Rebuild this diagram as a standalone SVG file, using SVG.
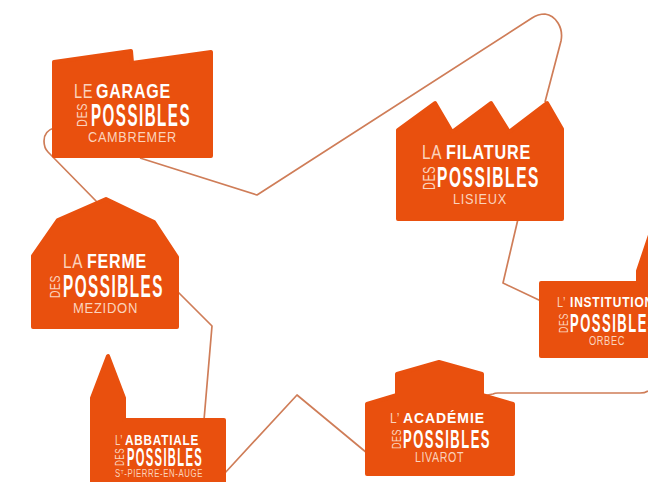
<svg xmlns="http://www.w3.org/2000/svg" width="648" height="482" viewBox="0 0 648 482">
<style>
.b{fill:#e9500e;stroke:#e9500e;stroke-width:4;stroke-linejoin:round}
text{font-family:"Liberation Sans Narrow","Liberation Sans",Arial,sans-serif;fill:#fff}
.t{font-weight:700;letter-spacing:1px}
.l{fill:#fbd3bd;letter-spacing:.8px}
.p{font-weight:700;fill:#fff;letter-spacing:3px}
#connectors path{fill:none;stroke:#cf7d58;stroke-width:1.7;stroke-linejoin:round}
</style>
<rect width="648" height="482" fill="#fff"/>
<g id="connectors">
<path d="M140 158L257 195L532 18Q538 14 545 14Q553 15 558 23Q563 31 561 41L545 102"/>
<path d="M54 128Q44 131 44 141Q44 148 48 152L98 203"/>
<path d="M177 291L212 326L204 420"/>
<path d="M224 474L297 395L367 453"/>
<path d="M482 396L493 394Q495 393 498 393L640 393Q645 393 648 391"/>
<path d="M518 219L503 283L541 301"/>
</g>
<g id="garage">
<path class="b" d="M54 62L131 51L132 63L211 52V156H54Z"/>
<text class="l" x="74" y="98" font-size="21" textLength="19" lengthAdjust="spacingAndGlyphs">LE</text>
<text class="t" x="96" y="98" font-size="21" textLength="75" lengthAdjust="spacingAndGlyphs">GARAGE</text>
<text class="p" x="91" y="126" font-size="31" textLength="100" lengthAdjust="spacingAndGlyphs">POSSIBLES</text>
<text class="l" transform="translate(87 127) rotate(-90)" font-size="15" textLength="24" lengthAdjust="spacingAndGlyphs">DES</text>
<text class="l" x="88" y="142" font-size="14" textLength="89" lengthAdjust="spacingAndGlyphs">CAMBREMER</text>
</g>
<g id="ferme">
<path class="b" d="M106 199L58 220L33 256V327H177V257L154 222Z"/>
<text class="l" x="63" y="268" font-size="20" textLength="20" lengthAdjust="spacingAndGlyphs">LA</text>
<text class="t" x="87" y="268" font-size="20" textLength="60" lengthAdjust="spacingAndGlyphs">FERME</text>
<text class="p" x="63" y="297" font-size="31" textLength="101" lengthAdjust="spacingAndGlyphs">POSSIBLES</text>
<text class="l" transform="translate(60 298) rotate(-90)" font-size="15" textLength="23" lengthAdjust="spacingAndGlyphs">DES</text>
<text class="l" x="73" y="313" font-size="15" textLength="65" lengthAdjust="spacingAndGlyphs">MEZIDON</text>
</g>
<g id="abbatiale">
<path class="b" d="M108 356L92 398V484H224V420H124V398Z"/>
<text class="l" x="115" y="445" font-size="15" textLength="8" lengthAdjust="spacingAndGlyphs">L’</text>
<text class="t" x="125" y="445" font-size="15" textLength="74" lengthAdjust="spacingAndGlyphs">ABBATIALE</text>
<text class="p" x="127" y="466" font-size="25" textLength="76" lengthAdjust="spacingAndGlyphs">POSSIBLES</text>
<text class="l" transform="translate(124 466) rotate(-90)" font-size="12" textLength="18" lengthAdjust="spacingAndGlyphs">DES</text>
<text class="l" x="115" y="477" font-size="10" textLength="88" lengthAdjust="spacingAndGlyphs">S<tspan font-size="6" dy="-3">T</tspan><tspan dy="3">-PIERRE-EN-AUGE</tspan></text>
</g>
<g id="academie">
<path class="b" d="M439 362L397 374V395L367 404V474H513V404L482 395V374Z"/>
<text class="l" x="390" y="423" font-size="15" textLength="10" lengthAdjust="spacingAndGlyphs">L’</text>
<text class="t" x="403" y="423" font-size="15" textLength="82" lengthAdjust="spacingAndGlyphs">ACADÉMIE</text>
<text class="p" x="403" y="448" font-size="26" textLength="88" lengthAdjust="spacingAndGlyphs">POSSIBLES</text>
<text class="l" transform="translate(401 449) rotate(-90)" font-size="13" textLength="20" lengthAdjust="spacingAndGlyphs">DES</text>
<text class="l" x="415" y="462" font-size="14" textLength="49" lengthAdjust="spacingAndGlyphs">LIVAROT</text>
</g>
<g id="filature">
<path class="b" d="M398 130L435 103L452 132L491 103L509 132L547 103L562 129V219H398Z"/>
<text class="l" x="422" y="159" font-size="21" textLength="20" lengthAdjust="spacingAndGlyphs">LA</text>
<text class="t" x="446" y="159" font-size="21" textLength="85" lengthAdjust="spacingAndGlyphs">FILATURE</text>
<text class="p" x="437" y="187" font-size="30" textLength="103" lengthAdjust="spacingAndGlyphs">POSSIBLES</text>
<text class="l" transform="translate(435 190) rotate(-90)" font-size="16" textLength="24" lengthAdjust="spacingAndGlyphs">DES</text>
<text class="l" x="453" y="204" font-size="14" textLength="54" lengthAdjust="spacingAndGlyphs">LISIEUX</text>
</g>
<g id="institution">
<path class="b" d="M541 283H638V271L650 235V356H541Z"/>
<text class="l" x="557" y="307" font-size="15" textLength="9" lengthAdjust="spacingAndGlyphs">L’</text>
<text class="t" x="570" y="307" font-size="15" textLength="84" lengthAdjust="spacingAndGlyphs">INSTITUTION</text>
<text class="p" x="570" y="332" font-size="26" textLength="88" lengthAdjust="spacingAndGlyphs">POSSIBLES</text>
<text class="l" transform="translate(568 333) rotate(-90)" font-size="12" textLength="20" lengthAdjust="spacingAndGlyphs">DES</text>
<text class="l" x="589" y="345" font-size="12" textLength="36" lengthAdjust="spacingAndGlyphs">ORBEC</text>
</g>
</svg>
